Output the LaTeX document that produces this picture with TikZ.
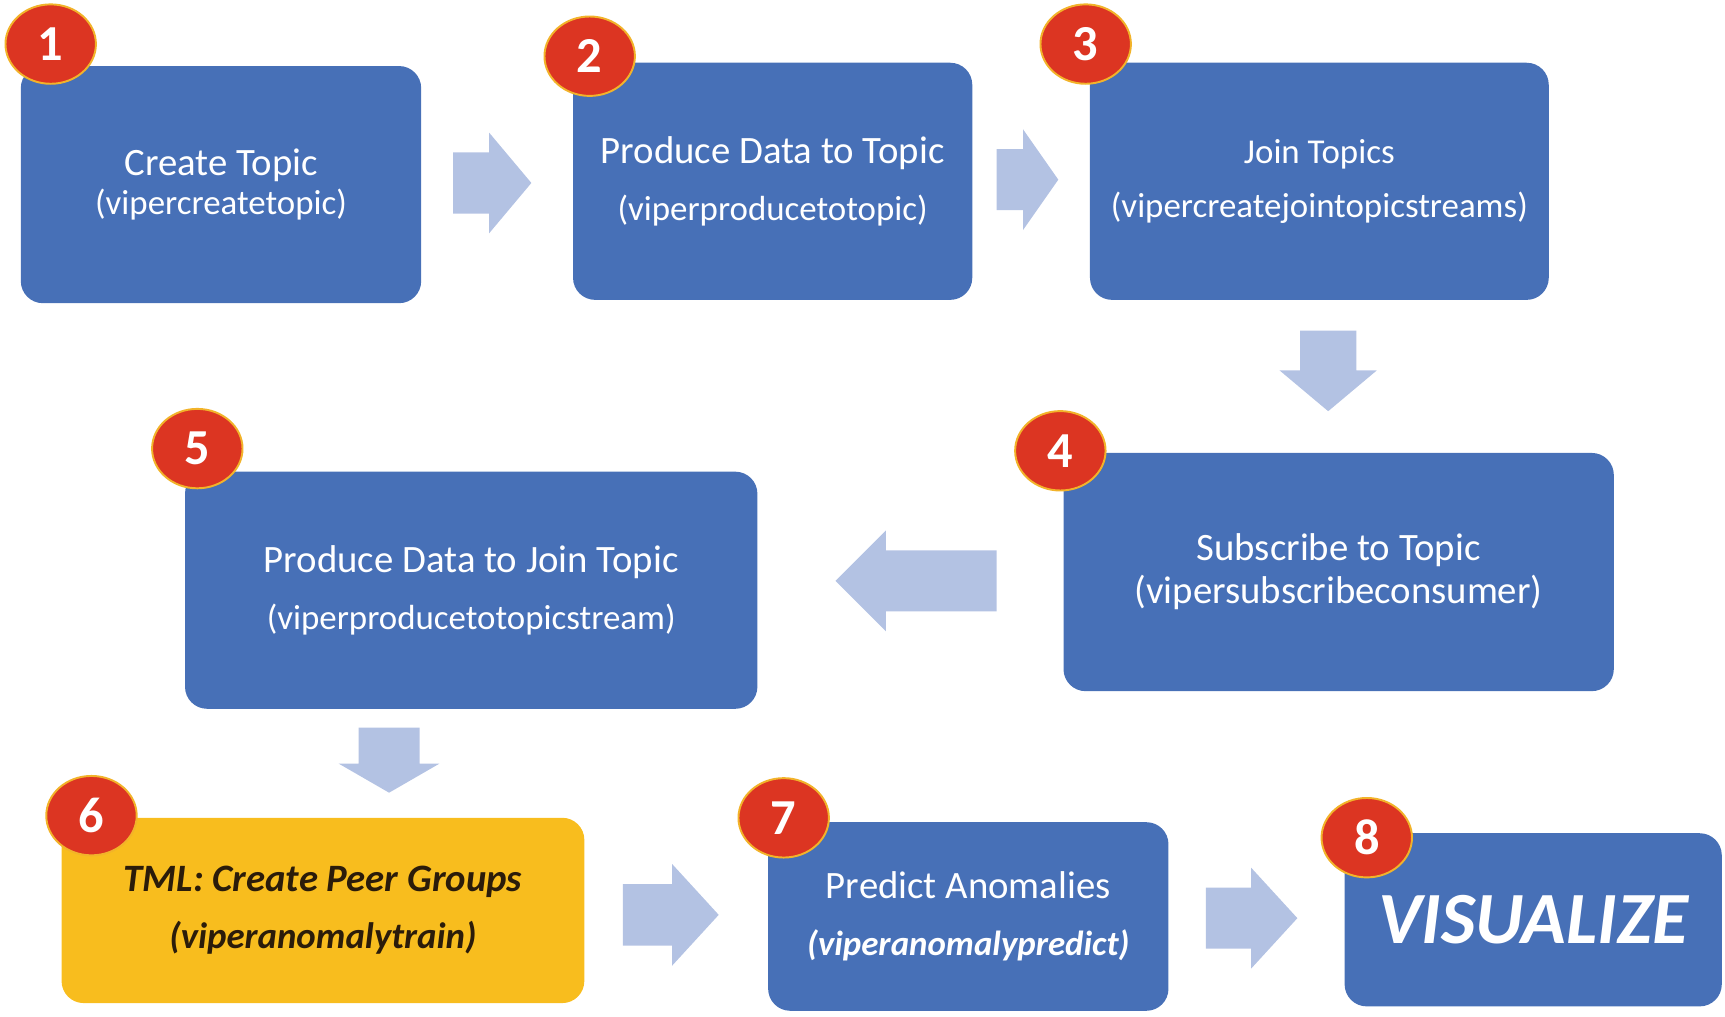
\documentclass[tikz,border=0pt]{standalone}
\usepackage{fontspec}
\setmainfont{Carlito}
\usetikzlibrary{shapes.geometric,shapes.arrows}
\definecolor{boxblue}{HTML}{4770B7}
\definecolor{peeryellow}{HTML}{F8BD1E}
\definecolor{badgered}{HTML}{DC3522}
\definecolor{badgerim}{HTML}{F2B32A}
\definecolor{arrowblue}{HTML}{B3C2E3}
\definecolor{darktext}{HTML}{2B1C0A}
\newcommand{\subsize}{\fontsize{9}{11}\selectfont}
\tikzset{
  stepbox/.style={rectangle,rounded corners=0.2cm,fill=boxblue,text=white,
    align=center,inner sep=0pt,font=\fontsize{10}{12}\selectfont},
  peerbox/.style={stepbox,fill=peeryellow,text=darktext},
  badge/.style={ellipse,fill=badgered,draw=badgerim,line width=0.5pt,
    minimum width=0.82cm,minimum height=0.72cm,inner sep=0pt,text=white,
    font=\fontsize{13}{13}\selectfont\bfseries},
  flowarrow/.style={single arrow,fill=arrowblue,draw=none,inner sep=0pt,
    inner ysep=0.27cm,minimum width=0.88cm,single arrow head extend=0.18cm,
    single arrow tip angle=100,anchor=tip}
}

\begin{document}
\begin{tikzpicture}[x=0.01cm,y=-0.01cm]
  \useasboundingbox (0,0) rectangle (1565,922);
  % top row
  \node[stepbox,minimum width=3.63cm,minimum height=2.15cm] (create) at (200.5,167.5)
    {Create Topic\\[-1.8pt]{\subsize (vipercreatetopic)}};
  \node[stepbox,minimum width=3.62cm,minimum height=2.15cm] (produce) at (701,164.5)
    {Produce Data to Topic\\[2.8pt]{\subsize (viperproducetotopic)}};
  \node[stepbox,minimum width=4.16cm,minimum height=2.15cm,font=\subsize] (join) at (1197,164.5)
    {Join Topics\\[2.9pt](vipercreatejointopicstreams)};
  % middle row
  \node[stepbox,minimum width=4.99cm,minimum height=2.16cm] (subscribe) at (1214.5,519)
    {Subscribe to Topic\\[-0.9pt](vipersubscribeconsumer)};
  \node[stepbox,minimum width=5.19cm,minimum height=2.15cm] (joinstream) at (427.5,535.5)
    {Produce Data to Join Topic\\[2.8pt]{\subsize (viperproducetotopicstream)}};
  % bottom row
  \node[peerbox,minimum width=4.74cm,minimum height=1.68cm] (train) at (293,826)
    {\bfseries\itshape TML: Create Peer Groups\\[2.8pt]{\fontsize{9.5}{11}\selectfont\bfseries\itshape (viperanomalytrain)}};
  \node[stepbox,minimum width=3.63cm,minimum height=1.71cm] (predict) at (878.5,831.5)
    {Predict Anomalies\\[2.8pt]{\subsize\bfseries\itshape (viperanomalypredict)}};
  \node[stepbox,minimum width=3.42cm,minimum height=1.57cm,font=\fontsize{19}{22}\selectfont\bfseries\itshape] (visual) at (1391,834.5)
    {VISUALIZE};
  % step numbers
  \node[badge] (n1) at (46,40) {1};
  \node[badge] (n2) at (535,51) {2};
  \node[badge] (n3) at (985,40) {3};
  \node[badge] (n4) at (962,409) {4};
  \node[badge] (n5) at (179,407) {5};
  \node[badge] (n6) at (83,740) {6};
  \node[badge] (n7) at (711,742) {7};
  \node[badge] (n8) at (1240,760) {8};
  % block arrows
  \node[flowarrow,minimum height=0.71cm] (a12) at (483,166) {};
  \node[flowarrow,minimum height=0.56cm,single arrow tip angle=110] (a23) at (961,163) {};
  \node[flowarrow,minimum height=0.73cm,rotate=-90,inner ysep=0.24cm] (a34) at (1205,374) {};
  \node[flowarrow,minimum height=1.46cm,rotate=180,single arrow tip angle=90] (a45) at (757,527) {};
  \node[flowarrow,minimum height=0.59cm,rotate=-90,single arrow tip angle=120] (a56) at (353,720) {};
  \node[flowarrow,minimum height=0.87cm,minimum width=0.92cm,single arrow tip angle=95] (a67) at (653,830) {};
  \node[flowarrow,minimum height=0.83cm,single arrow tip angle=95] (a78) at (1178,833) {};
\end{tikzpicture}
\end{document}
